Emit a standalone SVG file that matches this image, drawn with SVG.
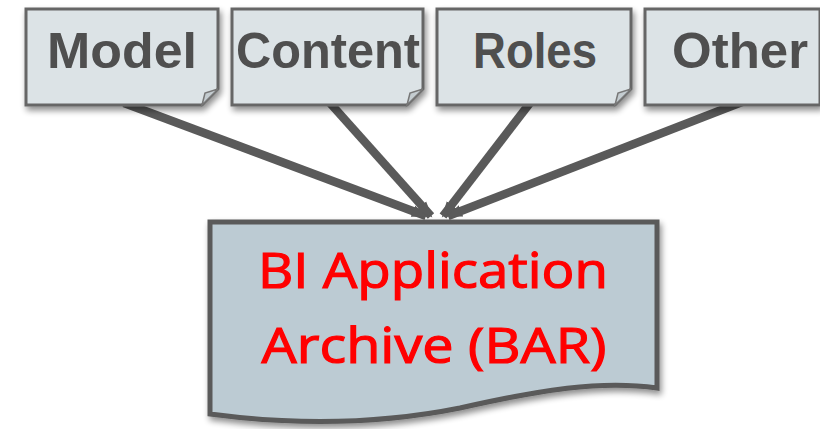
<svg xmlns="http://www.w3.org/2000/svg" width="820" height="429" viewBox="0 0 820 429">
<defs>
<filter id="sh" x="-10%" y="-10%" width="130%" height="140%">
<feGaussianBlur in="SourceAlpha" stdDeviation="3"/>
<feOffset dx="2" dy="4"/>
<feComponentTransfer><feFuncA type="linear" slope="0.45"/></feComponentTransfer>
<feMerge><feMergeNode/><feMergeNode in="SourceGraphic"/></feMerge>
</filter>
<marker id="ah" markerUnits="userSpaceOnUse" markerWidth="20" markerHeight="20" refX="14" refY="8" orient="auto">
<path d="M0,2 L16,8 L0,14 Z" fill="#5a5a5a"/>
</marker>
</defs>
<style>
.card{fill:#dce3e6;stroke:#666;stroke-width:3;}
.fold{fill:#c4ccd0;stroke:#777;stroke-width:1.5;}
.lbl{font-family:"Liberation Sans",Arial,sans-serif;font-weight:bold;font-size:50px;fill:#4f4f4f;text-anchor:middle;}
.conn{stroke:#5a5a5a;stroke-width:8.5;fill:none;marker-end:url(#ah);}
.doc{fill:#bccbd3;stroke:#5a5a5a;stroke-width:5;}
.red{font-family:"Open Sans","Liberation Sans",sans-serif;font-size:50px;fill:#ff0000;stroke:#ff0000;stroke-width:1.2;text-anchor:middle;}
</style>
<g id="connectors">
<line class="conn" x1="124" y1="103" x2="426" y2="216"/>
<line class="conn" x1="330" y1="103" x2="431" y2="216"/>
<line class="conn" x1="530" y1="103" x2="443" y2="216"/>
<line class="conn" x1="742" y1="102" x2="448" y2="216"/>
</g>
<g id="model">
<path class="card" filter="url(#sh)" d="M26,9 H218 V89 L202,105 H26 Z"/>
<path class="fold" d="M202,105 L205,93 L218,89 Z"/>
<text class="lbl" x="122" y="68" textLength="150" lengthAdjust="spacingAndGlyphs">Model</text>
</g>
<g id="content">
<path class="card" filter="url(#sh)" d="M232,9 H423 V89 L407,105 H232 Z"/>
<path class="fold" d="M407,105 L410,93 L423,89 Z"/>
<text class="lbl" x="328" y="68" textLength="184" lengthAdjust="spacingAndGlyphs">Content</text>
</g>
<g id="roles">
<path class="card" filter="url(#sh)" d="M437,9 H631 V89 L615,105 H437 Z"/>
<path class="fold" d="M615,105 L618,93 L631,89 Z"/>
<text class="lbl" x="535" y="68" textLength="124" lengthAdjust="spacingAndGlyphs">Roles</text>
</g>
<g id="other">
<path class="card" filter="url(#sh)" d="M645,9 H820 V105 H645 Z"/>
<text class="lbl" x="740" y="68" textLength="136" lengthAdjust="spacingAndGlyphs">Other</text>
</g>
<g id="bar">
<path class="doc" filter="url(#sh)" d="M210,222 H657 V388 C600,380 540,390 460,408 C380,424 300,426 210,414 Z"/>
<text class="red" x="433" y="288" textLength="350" lengthAdjust="spacingAndGlyphs">BI Application</text>
<text class="red" x="434" y="363" textLength="345" lengthAdjust="spacingAndGlyphs">Archive (BAR)</text>
</g>
</svg>
